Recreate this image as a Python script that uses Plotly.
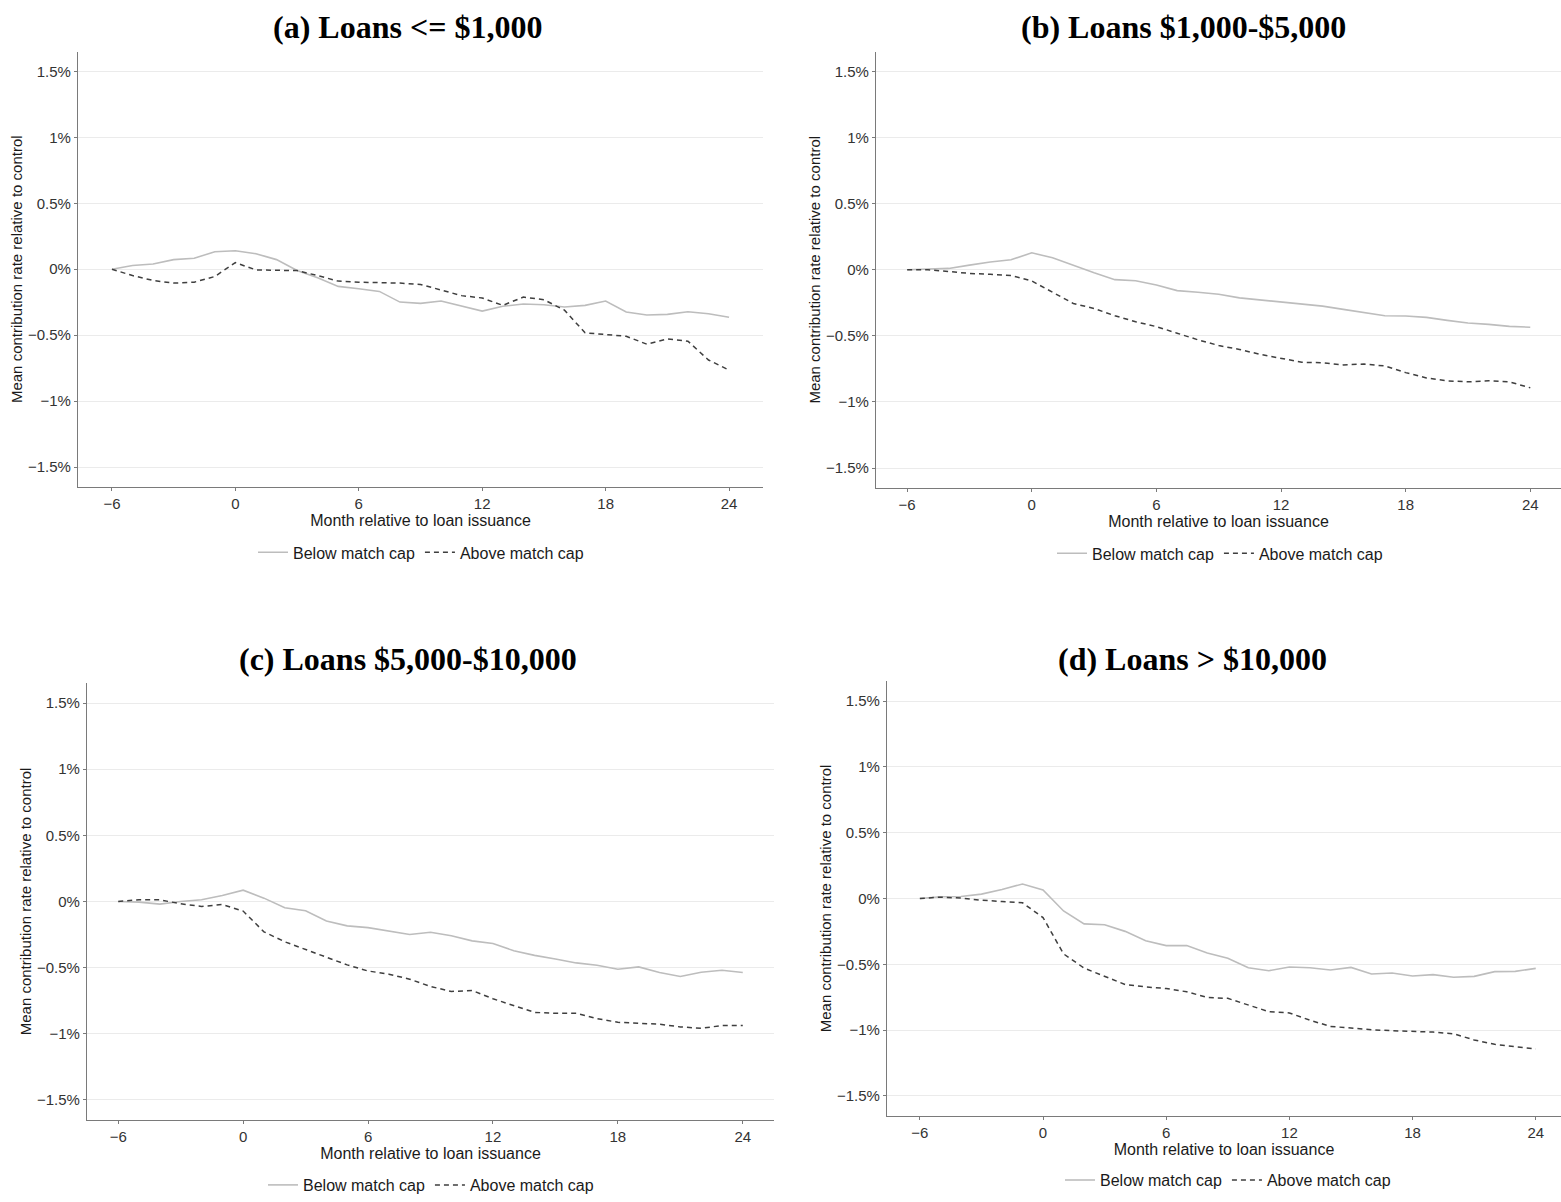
import plotly.graph_objects as go

# Months relative to loan issuance
months = list(range(-6, 25))

# Mean contribution rate relative to control (%), by loan size bucket
a_below = [0.0, 0.028, 0.04, 0.073, 0.083, 0.133, 0.14, 0.118, 0.073, -0.01, -0.065,
           -0.13, -0.148, -0.168, -0.249, -0.259, -0.241, -0.279, -0.317, -0.281, -0.264,
           -0.269, -0.286, -0.274, -0.241, -0.324, -0.347, -0.342, -0.322, -0.337, -0.364]
a_above = [0.0, -0.048, -0.085, -0.105, -0.098, -0.055, 0.05, -0.005, -0.008, -0.01, -0.048,
           -0.09, -0.098, -0.1, -0.105, -0.115, -0.16, -0.2, -0.218, -0.274, -0.211,
           -0.231, -0.31, -0.482, -0.495, -0.508, -0.568, -0.528, -0.545, -0.688, -0.764]

b_below = [0.0, 0.003, 0.01, 0.035, 0.058, 0.075, 0.128, 0.09, 0.033, -0.023, -0.075,
           -0.083, -0.115, -0.158, -0.17, -0.185, -0.213, -0.228, -0.248, -0.258, -0.275,
           -0.3, -0.323, -0.348, -0.35, -0.36, -0.383, -0.403, -0.413, -0.428, -0.435]
b_above = [0.0, 0.0, -0.013, -0.028, -0.035, -0.043, -0.085, -0.173, -0.255, -0.293, -0.348,
           -0.393, -0.43, -0.48, -0.53, -0.573, -0.603, -0.64, -0.668, -0.7, -0.703,
           -0.72, -0.713, -0.728, -0.778, -0.818, -0.84, -0.848, -0.84, -0.848, -0.893]

c_below = [0.0, -0.005, -0.02, 0.0, 0.0125, 0.045, 0.085, 0.025, -0.048, -0.07, -0.148,
           -0.185, -0.198, -0.225, -0.25, -0.233, -0.26, -0.298, -0.318, -0.373, -0.408,
           -0.435, -0.465, -0.483, -0.513, -0.495, -0.538, -0.568, -0.535, -0.52, -0.538]
c_above = [0.0, 0.0125, 0.0125, -0.018, -0.038, -0.023, -0.073, -0.23, -0.305, -0.363, -0.423,
           -0.48, -0.526, -0.55, -0.588, -0.643, -0.681, -0.673, -0.736, -0.789, -0.839,
           -0.846, -0.846, -0.886, -0.914, -0.921, -0.929, -0.949, -0.959, -0.939, -0.939]

d_below = [0.0, 0.013, 0.015, 0.033, 0.068, 0.11, 0.065, -0.095, -0.193, -0.2, -0.25,
           -0.321, -0.358, -0.358, -0.414, -0.454, -0.526, -0.549, -0.521, -0.526, -0.544,
           -0.524, -0.574, -0.566, -0.589, -0.579, -0.599, -0.592, -0.556, -0.554, -0.531]
d_above = [0.0, 0.01, 0.003, -0.013, -0.023, -0.033, -0.145, -0.421, -0.529, -0.589, -0.654,
           -0.672, -0.684, -0.709, -0.752, -0.759, -0.81, -0.86, -0.87, -0.925, -0.972,
           -0.985, -0.997, -1.005, -1.01, -1.015, -1.028, -1.075, -1.108, -1.123, -1.143]

panel_titles = ["(a) Loans <= $1,000", "(b) Loans $1,000-$5,000",
                "(c) Loans $5,000-$10,000", "(d) Loans > $10,000"]
series_names = ["Below match cap", "Above match cap"]

x_tickvals = [-6, 0, 6, 12, 18, 24]
x_ticktext = ["\u22126", "0", "6", "12", "18", "24"]
y_tickvals = [-1.5, -1, -0.5, 0, 0.5, 1, 1.5]
y_ticktext = ["\u22121.5%", "\u22121%", "\u22120.5%", "0%", "0.5%", "1%", "1.5%"]

x_title = "Month relative to loan issuance"
y_title = "Mean contribution rate relative to control"

W, H = 1561, 1202


def px_x(v):
    return v / W


def px_y(v):
    return 1 - v / H


# Panel layout in pixels: plot box (left, right, top, bottom), x range,
# title centre, legend centre
panels = [
    dict(box=(78, 763, 52, 491), xr=[-7.65, 25.65], title=(407, 27), leg=(421, 557)),
    dict(box=(876, 1561, 52, 492), xr=[-7.5, 25.48], title=(1183, 27), leg=(1220, 558)),
    dict(box=(87, 774, 689, 1129), xr=[-7.5, 25.5], title=(408, 665), leg=(431, 1195)),
    dict(box=(887, 1561, 687, 1125), xr=[-7.6, 25.23], title=(1192, 665), leg=(1228, 1190)),
]
data = [(a_below, a_above), (b_below, b_above), (c_below, c_above), (d_below, d_above)]

solid_color = "#bdbdbd"
dash_color = "#3f3f3f"
text_color = "#333333"
font_sans = "Liberation Sans, Arial, sans-serif"
font_serif = "Liberation Serif, Times New Roman, serif"

fig = go.Figure()
layout = dict(
    width=W, height=H,
    margin=dict(l=0, r=0, t=0, b=0),
    paper_bgcolor="white", plot_bgcolor="white",
    font=dict(family=font_sans, size=15, color=text_color),
    annotations=[],
)

for i, (p, (below, above)) in enumerate(zip(panels, data)):
    k = "" if i == 0 else str(i + 1)
    leg = "legend" + k
    l, r, t, b = p["box"]
    fig.add_trace(go.Scatter(
        x=months, y=below, mode="lines", name=series_names[0],
        line=dict(color=solid_color, width=1.6),
        xaxis="x" + k, yaxis="y" + k, legend=leg,
    ))
    fig.add_trace(go.Scatter(
        x=months, y=above, mode="lines", name=series_names[1],
        line=dict(color=dash_color, width=1.5, dash="5px,4px"),
        xaxis="x" + k, yaxis="y" + k, legend=leg,
    ))
    layout["xaxis" + k] = dict(
        domain=[px_x(l), px_x(r)], range=p["xr"], anchor="y" + k,
        tickvals=x_tickvals, ticktext=x_ticktext,
        showgrid=False, zeroline=False,
        showline=True, linecolor="#7a7a7a", linewidth=1.2,
        ticks="outside", ticklen=3, tickcolor="#7a7a7a",
        tickfont=dict(size=15, color=text_color),
        title=dict(text=x_title, font=dict(size=16, color="#1a1a1a"), standoff=2),
    )
    layout["yaxis" + k] = dict(
        domain=[px_y(b), px_y(t)], range=[-1.65, 1.65], anchor="x" + k,
        tickvals=y_tickvals, ticktext=y_ticktext,
        showgrid=True, gridcolor="#ebebeb", gridwidth=1.2, zeroline=False,
        showline=True, linecolor="#7a7a7a", linewidth=1.2,
        ticks="outside", ticklen=3, tickcolor="#7a7a7a",
        tickfont=dict(size=15, color=text_color),
        title=dict(text=y_title, font=dict(size=15, color="#1a1a1a"), standoff=1),
    )
    layout[leg] = dict(
        orientation="h", x=px_x(p["leg"][0]), y=px_y(p["leg"][1]),
        xanchor="center", yanchor="middle",
        font=dict(size=16, color="#1a1a1a"), bgcolor="rgba(0,0,0,0)",
        itemwidth=30, tracegroupgap=0,
    )
    layout["annotations"].append(dict(
        text=panel_titles[i], x=px_x(p["title"][0]), y=px_y(p["title"][1]),
        xref="paper", yref="paper", xanchor="center", yanchor="middle",
        showarrow=False,
        font=dict(family=font_serif, size=32, color="black", weight="bold"),
    ))

fig.update_layout(**layout)
fig.write_html("out.html")
